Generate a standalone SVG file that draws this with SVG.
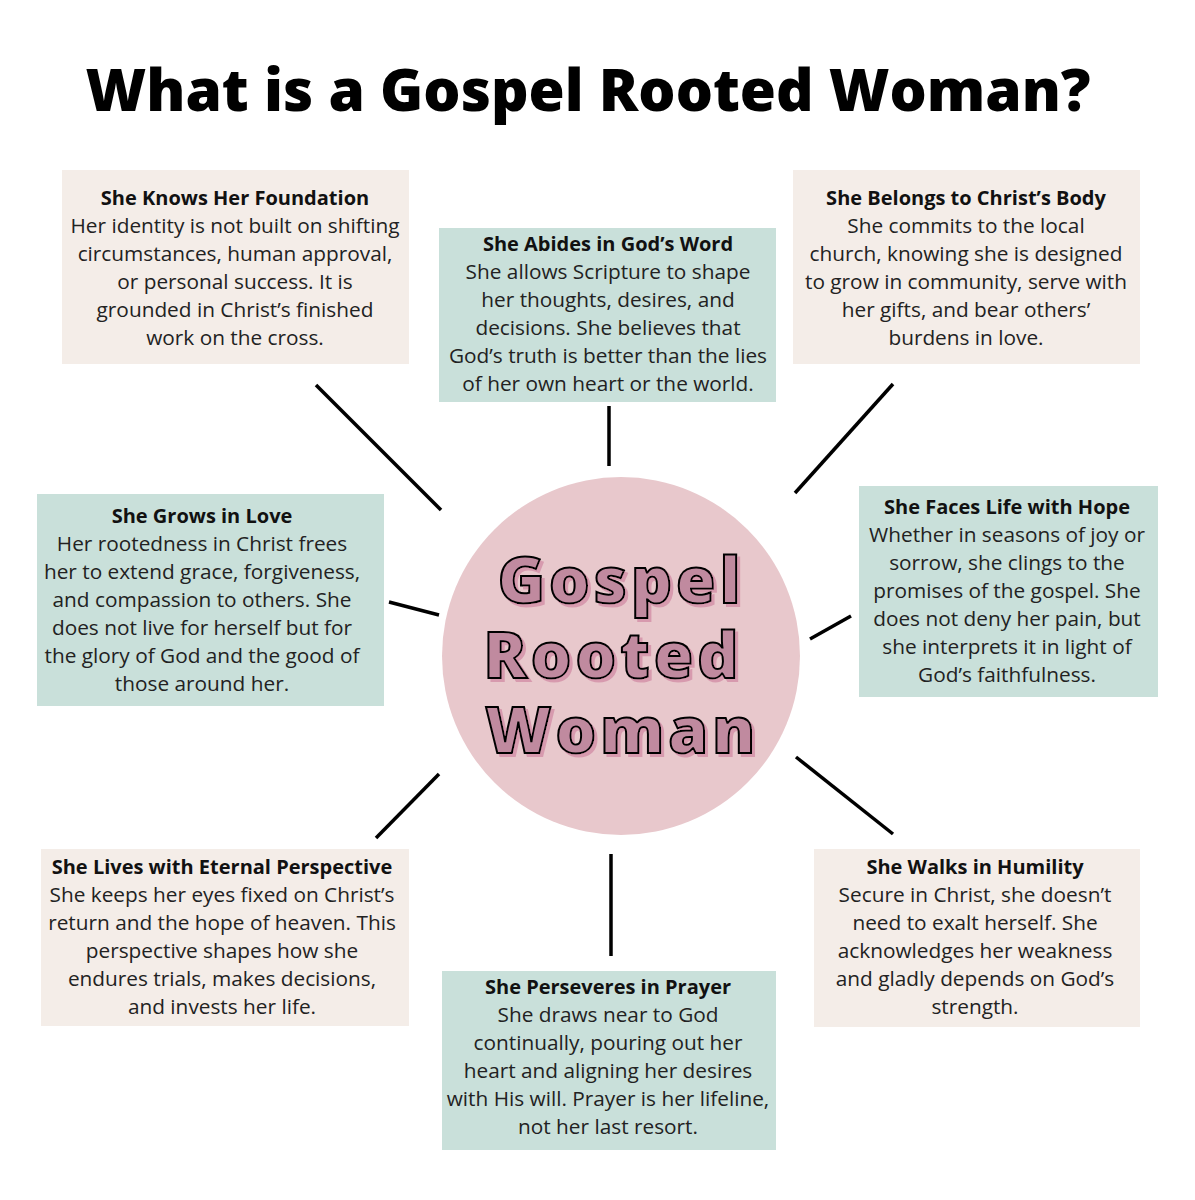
<svg xmlns="http://www.w3.org/2000/svg" width="1195" height="1200" viewBox="0 0 1195 1200">
<defs>
<filter id="pinkshadow" x="-10%" y="-10%" width="120%" height="130%">
<feFlood flood-color="#d79aae" result="c"/>
<feComposite in="c" in2="SourceAlpha" operator="in" result="s"/>
<feOffset in="s" dx="2.5" dy="2.5" result="o"/>
<feMerge><feMergeNode in="o"/><feMergeNode in="SourceGraphic"/></feMerge>
</filter>
</defs>
<style>
.beige{fill:#f4ede8}
.teal{fill:#c9e0da}
.h{font-family:"Open Sans","DejaVu Sans",sans-serif;font-weight:700;font-size:20px;fill:#111;text-anchor:middle}
.b{font-family:"Open Sans","DejaVu Sans",sans-serif;font-size:20.8px;fill:#222;text-anchor:middle}
.title{font-family:"Open Sans","DejaVu Sans",sans-serif;font-weight:800;font-size:58.5px;fill:#000;text-anchor:middle}
.ct{font-family:"Open Sans","DejaVu Sans",sans-serif;font-weight:800;font-size:64px;text-anchor:middle;letter-spacing:4px;fill:#c08a9f;stroke:#000;stroke-width:2}
.conn line{stroke:#000;stroke-width:3.5;stroke-linecap:butt}
</style>
<rect width="1195" height="1200" fill="#fff"/>
<text class="title" x="588" y="111">What is a Gospel Rooted Woman?</text>

<g id="connectors" class="conn">
<line x1="316" y1="385" x2="441" y2="510"/>
<line x1="609" y1="406" x2="609" y2="466"/>
<line x1="893" y1="384" x2="795" y2="493"/>
<line x1="389" y1="602" x2="439" y2="615"/>
<line x1="810" y1="639" x2="851" y2="616"/>
<line x1="439" y1="774" x2="376" y2="838"/>
<line x1="611" y1="854" x2="611" y2="956"/>
<line x1="796" y1="757" x2="893" y2="834"/>
</g>

<g id="center">
<circle cx="621" cy="656" r="179" fill="#e8c8cc"/>
<g class="ct" filter="url(#pinkshadow)">
<text x="621" y="603">Gospel</text>
<text x="613" y="678">Rooted</text>
<text x="622" y="753">Woman</text>
</g>
</g>

<g id="foundation">
<rect class="beige" x="62" y="170" width="347" height="194"/>
<text class="h" x="235" y="205">She Knows Her Foundation</text>
<text class="b" x="235" y="233">Her identity is not built on shifting</text>
<text class="b" x="235" y="261">circumstances, human approval,</text>
<text class="b" x="235" y="289">or personal success. It is</text>
<text class="b" x="235" y="317">grounded in Christ’s finished</text>
<text class="b" x="235" y="345">work on the cross.</text>
</g>

<g id="abides">
<rect class="teal" x="439" y="228" width="337" height="174"/>
<text class="h" x="608" y="251">She Abides in God’s Word</text>
<text class="b" x="608" y="279">She allows Scripture to shape</text>
<text class="b" x="608" y="307">her thoughts, desires, and</text>
<text class="b" x="608" y="335">decisions. She believes that</text>
<text class="b" x="608" y="363">God’s truth is better than the lies</text>
<text class="b" x="608" y="391">of her own heart or the world.</text>
</g>

<g id="belongs">
<rect class="beige" x="793" y="170" width="347" height="194"/>
<text class="h" x="966" y="205">She Belongs to Christ’s Body</text>
<text class="b" x="966" y="233">She commits to the local</text>
<text class="b" x="966" y="261">church, knowing she is designed</text>
<text class="b" x="966" y="289">to grow in community, serve with</text>
<text class="b" x="966" y="317">her gifts, and bear others’</text>
<text class="b" x="966" y="345">burdens in love.</text>
</g>

<g id="love">
<rect class="teal" x="37" y="494" width="347" height="212"/>
<text class="h" x="202" y="523">She Grows in Love</text>
<text class="b" x="202" y="551">Her rootedness in Christ frees</text>
<text class="b" x="202" y="579">her to extend grace, forgiveness,</text>
<text class="b" x="202" y="607">and compassion to others. She</text>
<text class="b" x="202" y="635">does not live for herself but for</text>
<text class="b" x="202" y="663">the glory of God and the good of</text>
<text class="b" x="202" y="691">those around her.</text>
</g>

<g id="hope">
<rect class="teal" x="859" y="486" width="299" height="211"/>
<text class="h" x="1007" y="514">She Faces Life with Hope</text>
<text class="b" x="1007" y="542">Whether in seasons of joy or</text>
<text class="b" x="1007" y="570">sorrow, she clings to the</text>
<text class="b" x="1007" y="598">promises of the gospel. She</text>
<text class="b" x="1007" y="626">does not deny her pain, but</text>
<text class="b" x="1007" y="654">she interprets it in light of</text>
<text class="b" x="1007" y="682">God’s faithfulness.</text>
</g>

<g id="eternal">
<rect class="beige" x="41" y="849" width="368" height="177"/>
<text class="h" x="222" y="874">She Lives with Eternal Perspective</text>
<text class="b" x="222" y="902">She keeps her eyes fixed on Christ’s</text>
<text class="b" x="222" y="930">return and the hope of heaven. This</text>
<text class="b" x="222" y="958">perspective shapes how she</text>
<text class="b" x="222" y="986">endures trials, makes decisions,</text>
<text class="b" x="222" y="1014">and invests her life.</text>
</g>

<g id="prayer">
<rect class="teal" x="442" y="971" width="334" height="179"/>
<text class="h" x="608" y="994">She Perseveres in Prayer</text>
<text class="b" x="608" y="1022">She draws near to God</text>
<text class="b" x="608" y="1050">continually, pouring out her</text>
<text class="b" x="608" y="1078">heart and aligning her desires</text>
<text class="b" x="608" y="1106">with His will. Prayer is her lifeline,</text>
<text class="b" x="608" y="1134">not her last resort.</text>
</g>

<g id="humility">
<rect class="beige" x="814" y="849" width="326" height="178"/>
<text class="h" x="975" y="874">She Walks in Humility</text>
<text class="b" x="975" y="902">Secure in Christ, she doesn’t</text>
<text class="b" x="975" y="930">need to exalt herself. She</text>
<text class="b" x="975" y="958">acknowledges her weakness</text>
<text class="b" x="975" y="986">and gladly depends on God’s</text>
<text class="b" x="975" y="1014">strength.</text>
</g>
</svg>
